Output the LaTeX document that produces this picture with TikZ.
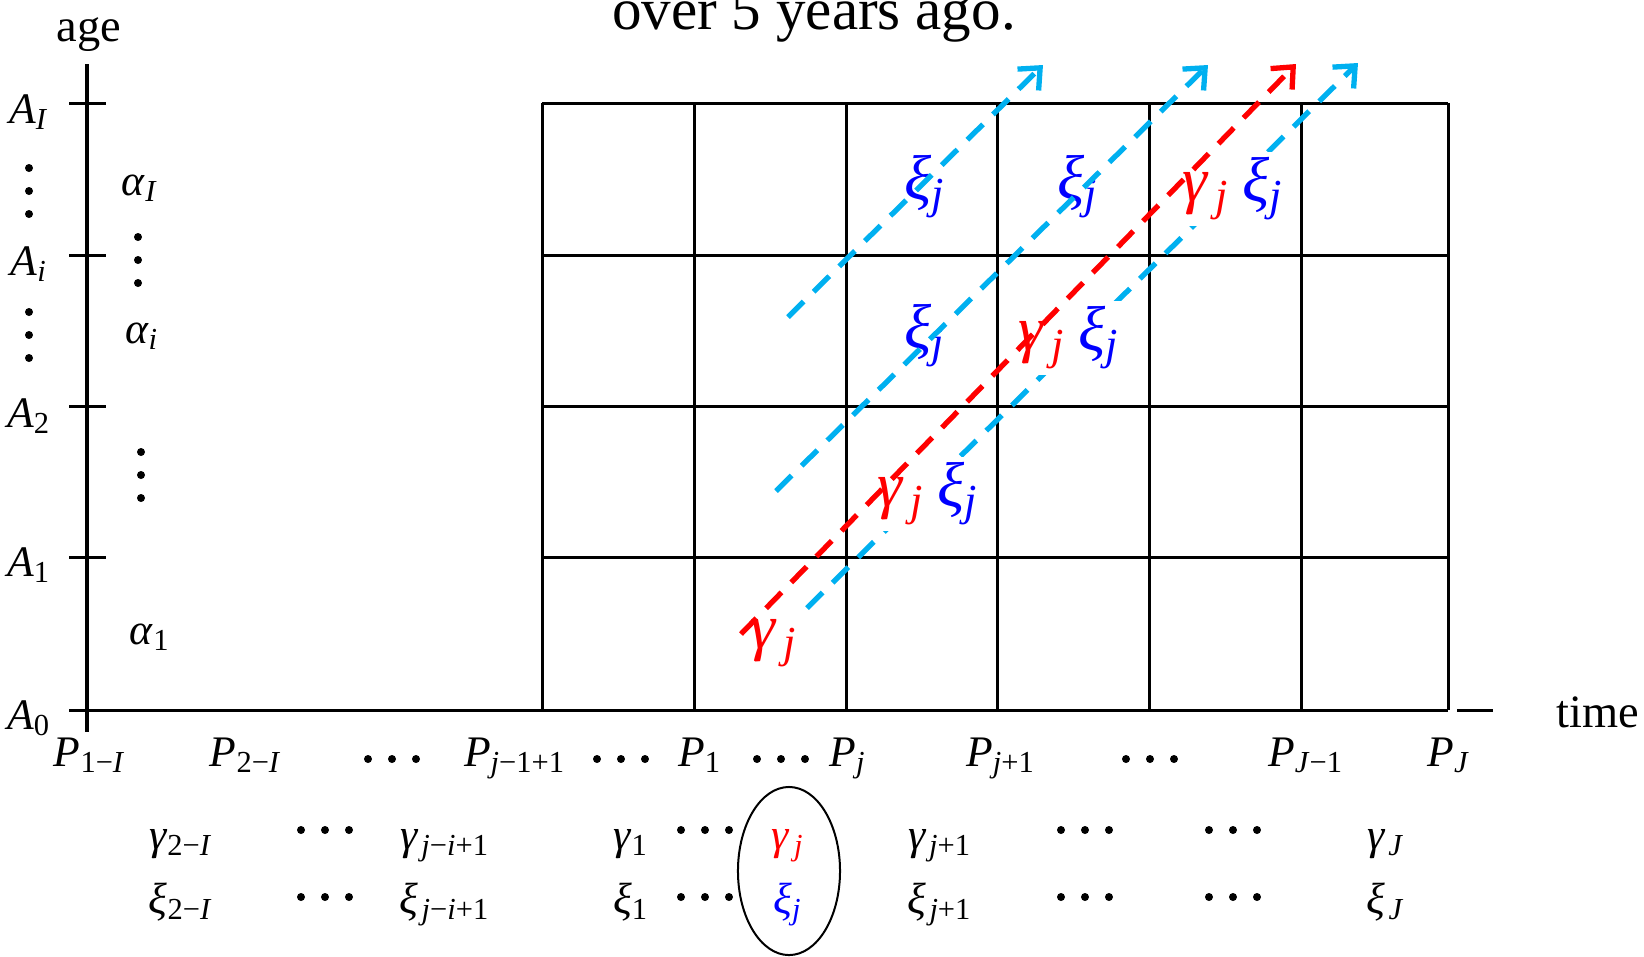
\documentclass[tikz,border=0pt]{standalone}
\usepackage{fontspec}
\setmainfont{Liberation Serif}
\usetikzlibrary{arrows.meta, shapes.geometric}

\newcommand{\sy}[2]{\textit{#1}\textsubscript{#2}}
\newcommand{\gj}{\textit{γ}\kern0.1em\textsubscript{\textit{j}}}
\newcommand{\xj}{\textit{ξ}\textsubscript{\textit{j}}}
\newcommand{\vdts}[2]{\foreach \dd in {-23,0,23} {\fill (#1,#2+\dd) circle (4);}}
\newcommand{\hdts}[2]{\foreach \dd in {-24,0,24} {\fill (#1+\dd,#2) circle (4);}}

\begin{document}
\begin{tikzpicture}[x=0.01cm, y=-0.01cm, font=\fontsize{12.4}{14.8}\selectfont]

\definecolor{flow_cyan}{RGB}{0,176,240}
\definecolor{flow_red}{RGB}{255,0,0}
\definecolor{xi_blue}{RGB}{0,0,255}

\tikzset{
  wire/.style={line width=0.03cm, draw=black},
  flow/.style={line width=0.053cm, dash pattern=on 0.22cm off 0.14cm,
    -{Straight Barb[length=0.17cm, width=0.3cm]}},
  lab/.style={inner sep=1pt},
  cell/.style={inner sep=1.5pt, font=\fontsize{18}{21}\selectfont},
  big/.style={font=\fontsize{13.2}{16}\selectfont},
}

\useasboundingbox (0,0) rectangle (1644,956);
\clip (0,0) rectangle (1644,956);

% title, cut by the top edge
\node[anchor=base, font=\fontsize{16.8}{20}\selectfont] (title) at (814,29) {over 5 years ago.};

% axes
\draw[wire] (87,64) -- (87,732);
\draw[wire] (69,710) -- (1448,710);
\draw[wire] (1457,710) -- (1493,710);
\foreach \y in {103,255,406,557}
  \draw[wire] (69,\y) -- (106,\y);
\node[big, anchor=base] (age) at (89,41) {age};
\node[big, anchor=base] (time) at (1598,727) {time};

% grid
\foreach \x in {542,694,846,997,1149,1301,1448}
  \draw[wire] (\x,103) -- (\x,710);
\foreach \y in {103,255,406,557}
  \draw[wire] (542,\y) -- (1448,\y);

% age labels
\node[lab] (aI) at (29,112) {\sy{A}{\textit{I}}};
\vdts{29}{191}
\node[lab] (ai) at (29,264) {\sy{A}{\textit{i}}};
\vdts{29}{335}
\node[lab] (a2) at (29,416) {\sy{A}{2}};
\node[lab] (a1) at (29,565) {\sy{A}{1}};
\node[lab] (a0) at (29,718) {\sy{A}{0}};

\node[lab] (alI) at (140,188) {\sy{α}{\textit{I}}};
\vdts{138}{260}
\node[lab] (ali) at (142,336) {\sy{α}{\textit{i}}};
\vdts{141}{475}
\node[lab] (al1) at (150,637) {\sy{α}{1}};

% periods
\foreach \x/\s [count=\n] in {90/{1−\textit{I}}, 246/{2−\textit{I}}, 515/{\textit{j}−1+1},
    700/{1}, 848/{\textit{j}}, 1001/{\textit{j}+1}, 1306/{\textit{J}−1}, 1449/{\textit{J}}}
  \node[lab, anchor=base] (p\n) at (\x,766) {\sy{P}{\s}};
\hdts{392}{759}
\hdts{621}{759}
\hdts{781}{759}
\hdts{1150}{759}

% cohort effects
\foreach \x/\s [count=\n] in {181/{2−\textit{I}}, 445/{\kern0.1em\textit{j}−\textit{i}+1}, 631/{1},
    940/{\kern0.1em\textit{j}+1}, 1386/{\kern0.1em\textit{J}}} {
  \node[lab, anchor=base] (g\n) at (\x,849) {\sy{γ}{\s}};
  \node[lab, anchor=base] (x\n) at (\x,913) {\sy{ξ}{\s}};
}
\foreach \x in {325,705,1085,1233} {
  \hdts{\x}{830}
  \hdts{\x}{897}
}
\node[lab, anchor=base, text=flow_red] (gj) at (788,849) {\gj};
\node[lab, anchor=base, text=xi_blue] (xj) at (788,913) {\xj};
\node[draw, ellipse, line width=0.02cm, minimum width=1.02cm, minimum height=1.68cm] (sel) at (789,871) {};

% diagonals
\coordinate (c1s) at (788,317);
\coordinate (c1e) at (1043,65);
\coordinate (c2s) at (776,491);
\coordinate (c2e) at (1208,65);
\coordinate (c3s) at (807,608);
\coordinate (c3e) at (1358,63);
\coordinate (rs) at (741,634);
\coordinate (re) at (1296,64);

\draw[flow, flow_cyan] (c3s) -- (c3e);

\node[cell, fill=white] (pr1) at (928,494) {\textcolor{flow_red}{\gj}\hspace{0.2em}\textcolor{xi_blue}{\xj}};
\node[cell, fill=white] (pr2) at (1069,338) {\textcolor{flow_red}{\gj}\hspace{0.2em}\textcolor{xi_blue}{\xj}};
\node[cell, fill=white] (pr3) at (1233,189) {\textcolor{flow_red}{\gj}\hspace{0.2em}\textcolor{xi_blue}{\xj}};
\node[cell, text=xi_blue] (s1) at (925,187) {\xj};
\node[cell, text=xi_blue] (s2) at (1078,187) {\xj};
\node[cell, text=xi_blue] (s3) at (925,336) {\xj};
\node[cell, text=flow_red] (s4) at (774,643) {\gj};

\draw[flow, flow_red] (rs) -- (re);
\draw[flow, flow_cyan] (c1s) -- (c1e);
\draw[flow, flow_cyan] (c2s) -- (c2e);

\end{tikzpicture}
\end{document}
